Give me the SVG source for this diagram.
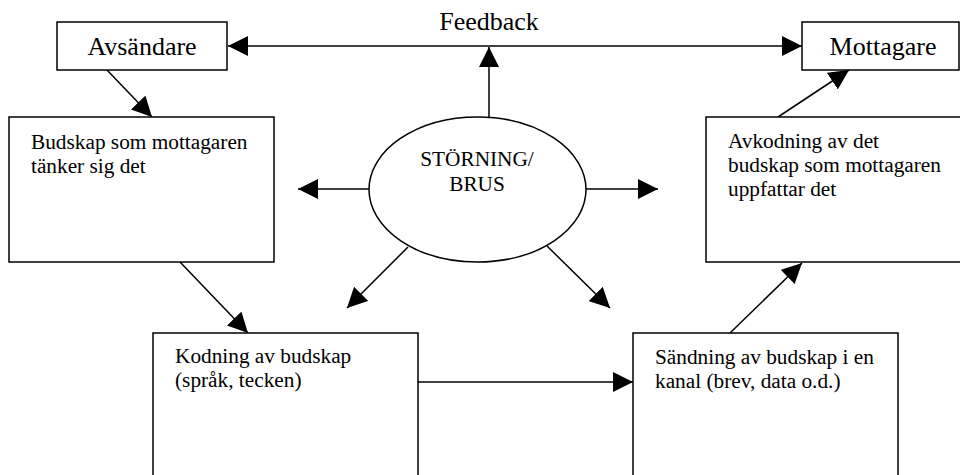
<svg xmlns="http://www.w3.org/2000/svg" width="960" height="475" viewBox="0 0 960 475">
  <style>
    .box { fill: #ffffff; stroke: #000000; stroke-width: 1.5; }
    .conn { fill: none; stroke: #000000; stroke-width: 1.5; }
    .t { font-family: "Liberation Serif", "Times New Roman", serif; fill: #000000; }
    .big { font-size: 26px; }
    .small { font-size: 21.3px; }
  </style>
  <defs>
    <marker id="arrow" markerUnits="userSpaceOnUse" markerWidth="20" markerHeight="20" refX="20" refY="10" orient="auto-start-reverse">
      <path d="M0,0 L20,10 L0,20 z" fill="#000000"/>
    </marker>
  </defs>
  <rect width="960" height="475" fill="#ffffff"/>

  <g id="connectors">
    <line class="conn" x1="228" y1="46" x2="802" y2="46" marker-start="url(#arrow)" marker-end="url(#arrow)"/>
    <line class="conn" x1="107" y1="70" x2="152" y2="117" marker-end="url(#arrow)"/>
    <line class="conn" x1="180" y1="262" x2="248" y2="333" marker-end="url(#arrow)"/>
    <line class="conn" x1="418" y1="382" x2="633" y2="382" marker-end="url(#arrow)"/>
    <line class="conn" x1="730" y1="333" x2="802" y2="263" marker-end="url(#arrow)"/>
    <line class="conn" x1="778" y1="117" x2="849" y2="70" marker-end="url(#arrow)"/>
    <line class="conn" x1="489" y1="118" x2="489" y2="47" marker-end="url(#arrow)"/>
    <line class="conn" x1="369" y1="189" x2="298" y2="189" marker-end="url(#arrow)"/>
    <line class="conn" x1="586" y1="189" x2="658" y2="189" marker-end="url(#arrow)"/>
    <line class="conn" x1="408" y1="247" x2="347" y2="308" marker-end="url(#arrow)"/>
    <line class="conn" x1="547" y1="246" x2="610" y2="308" marker-end="url(#arrow)"/>
  </g>

  <g id="feedback-label">
    <text class="t big" x="489" y="30" text-anchor="middle">Feedback</text>
  </g>

  <g id="avsandare">
    <rect class="box" x="57" y="22" width="170" height="48"/>
    <text class="t big" x="142" y="55" text-anchor="middle">Avsändare</text>
  </g>

  <g id="mottagare">
    <rect class="box" x="802" y="22" width="157" height="48"/>
    <text class="t big" x="883" y="55" text-anchor="middle">Mottagare</text>
  </g>

  <g id="budskap">
    <rect class="box" x="9" y="117" width="265" height="145"/>
    <text class="t small" x="31" y="149">Budskap som mottagaren</text>
    <text class="t small" x="31" y="173">tänker sig det</text>
  </g>

  <g id="avkodning">
    <rect class="box" x="706" y="117" width="265" height="145"/>
    <text class="t small" x="728" y="148">Avkodning av det</text>
    <text class="t small" x="728" y="172">budskap som mottagaren</text>
    <text class="t small" x="728" y="196">uppfattar det</text>
  </g>

  <g id="storning">
    <ellipse class="box" cx="477.5" cy="189.5" rx="108.5" ry="72.5"/>
    <text class="t small" x="477" y="166" text-anchor="middle">STÖRNING/</text>
    <text class="t small" x="477" y="191" text-anchor="middle">BRUS</text>
  </g>

  <g id="kodning">
    <rect class="box" x="153" y="333" width="265" height="150"/>
    <text class="t small" x="175" y="363">Kodning av budskap</text>
    <text class="t small" x="175" y="387">(språk, tecken)</text>
  </g>

  <g id="sandning">
    <rect class="box" x="633" y="333" width="265" height="150"/>
    <text class="t small" x="655" y="364">Sändning av budskap i en</text>
    <text class="t small" x="655" y="388">kanal (brev, data o.d.)</text>
  </g>
</svg>
